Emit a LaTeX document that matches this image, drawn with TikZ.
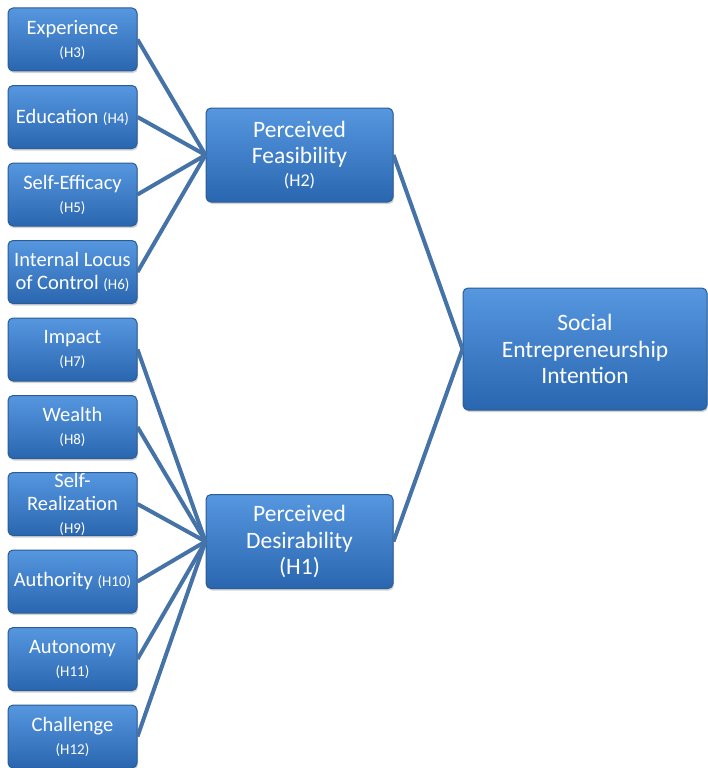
\documentclass[tikz,border=0pt]{standalone}
\usepackage{fontspec}
\setmainfont{Carlito}
\usetikzlibrary{shadows}

\definecolor{boxtop}{HTML}{5697E0}
\definecolor{boxbot}{HTML}{2A66B0}
\definecolor{boxedge}{HTML}{2A5C96}
\definecolor{linkblue}{HTML}{4573A8}

\newcommand{\hyp}[1]{{\fontsize{15}{18}\selectfont #1}}

\begin{document}
\begin{tikzpicture}[x=1pt,y=-1pt,
		factor/.style={draw=boxedge, line width=1pt, rounded corners=5pt,
			top color=boxtop, bottom color=boxbot, text=white, align=center,
			drop shadow={shadow xshift=1pt, shadow yshift=-2pt, opacity=0.35},
			inner sep=0pt, font=\fontsize{20.5}{23}\selectfont},
		small/.style={factor, minimum width=129pt, minimum height=63pt},
		mid/.style={factor, minimum width=187pt, minimum height=94pt,
			font=\fontsize{23.5}{26.5}\selectfont},
		big/.style={factor, minimum width=244pt, minimum height=122pt,
			font=\fontsize{23.5}{26.5}\selectfont},
		link/.style={draw=linkblue, line width=4pt}]

		\useasboundingbox (0,0) rectangle (708,768);

		% left column
		\node [small] (exp) at (72.5,39.5) {Experience\\\hyp{(H3)}};
		\node [small] (edu) at (72.5,117) {Education \hyp{(H4)}};
		\node [small] (eff) at (72.5,194.5) {Self-Efficacy\\\hyp{(H5)}};
		\node [small] (loc) at (72.5,272) {Internal Locus\\of Control \hyp{(H6)}};
		\node [small] (imp) at (72.5,349.5) {Impact\\\hyp{(H7)}};
		\node [small] (wea) at (72.5,427) {Wealth\\\hyp{(H8)}};
		\node [small] (rea) at (72.5,504) {Self-\\Realization\\\hyp{(H9)}};
		\node [small] (aut) at (72.5,581.5) {Authority \hyp{(H10)}};
		\node [small] (ato) at (72.5,659) {Autonomy\\\hyp{(H11)}};
		\node [small] (cha) at (72.5,736.5) {Challenge\\\hyp{(H12)}};

		% middle
		\node [mid] (feas) at (299.5,155) {Perceived\\Feasibility\\[-4pt]{\fontsize{18}{20}\selectfont (H2)}};
		\node [mid] (desi) at (299.5,541.5) {Perceived\\Desirability\\(H1)};

		% right
		\node [big] (sei) at (585,349) {Social\\Entrepreneurship\\Intention};

		\foreach \n in {exp,edu,eff,loc}
			\draw [link] (\n.east) -- (feas.west);
		\foreach \n in {imp,wea,rea,aut,ato,cha}
			\draw [link] (\n.east) -- (desi.west);

		\draw [link] (feas.east) -- (sei.west);
		\draw [link] (desi.east) -- (sei.west);
	\end{tikzpicture}
\end{document}
